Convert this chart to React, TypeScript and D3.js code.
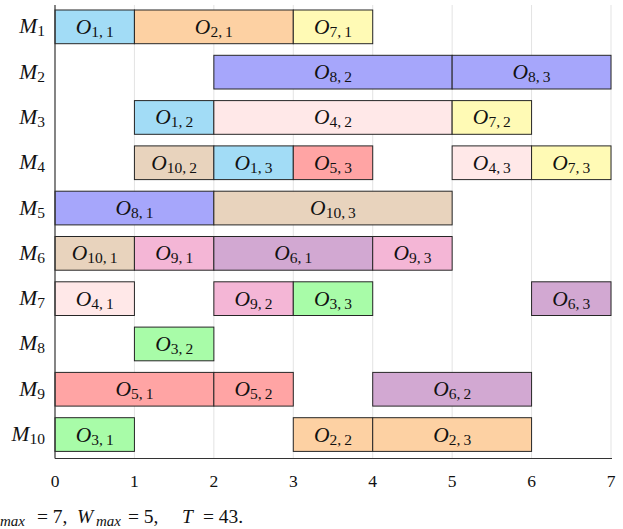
import React from "react";
import * as d3 from "d3";

// Machines (rows) and the time axis ticks
const machines = ["1", "2", "3", "4", "5", "6", "7", "8", "9", "10"];
const timeTicks = [0, 1, 2, 3, 4, 5, 6, 7];

// Each operation: machine index, job, operation number, start, end
const opMachine = [0, 0, 0, 1, 1, 2, 2, 2, 3, 3, 3, 3, 3, 4, 4, 5, 5, 5, 5, 6, 6, 6, 6, 7, 8, 8, 8, 9, 9, 9];
const opJob = [1, 2, 7, 8, 8, 1, 4, 7, 10, 1, 5, 4, 7, 8, 10, 10, 9, 6, 9, 4, 9, 3, 6, 3, 5, 5, 6, 3, 2, 2];
const opIndex = [1, 1, 1, 2, 3, 2, 2, 2, 2, 3, 3, 3, 3, 1, 3, 1, 1, 1, 3, 1, 2, 3, 3, 2, 1, 2, 2, 1, 2, 3];
const opStart = [0, 1, 3, 2, 5, 1, 2, 5, 1, 2, 3, 5, 6, 0, 2, 0, 1, 2, 4, 0, 2, 3, 6, 1, 0, 2, 4, 0, 3, 4];
const opEnd = [1, 3, 4, 5, 7, 2, 5, 6, 2, 3, 4, 6, 7, 2, 5, 1, 2, 4, 5, 1, 3, 4, 7, 2, 2, 3, 6, 1, 4, 6];

// Fill colour per job (1..10)
const jobColors = [
  "#a2dcf6", // 1
  "#fdd1a3", // 2
  "#a8fca8", // 3
  "#ffe8e8", // 4
  "#ffa4a4", // 5
  "#d2a8d2", // 6
  "#fffab5", // 7
  "#a6a6fb", // 8
  "#f4b6d6", // 9
  "#e8d3bd", // 10
];

// Schedule summary values
const cMax = 7;
const wMax = 5;
const tTotal = 43;

const ops = opMachine.map((m, i) => ({
  m,
  job: opJob[i],
  k: opIndex[i],
  start: opStart[i],
  end: opEnd[i],
}));

const W = 623;
const H = 529;
const FONT = "'Liberation Serif', 'DejaVu Serif', serif";

export default function App() {
  const x = d3.scaleLinear().domain([0, 7]).range([55, 611]);
  const y = d3
    .scaleBand<string>()
    .domain(machines)
    .range([4.2, 457.2])
    .paddingInner(0.256)
    .paddingOuter(0.128);
  const axisY = 458.5;
  const bw = y.bandwidth();

  return (
    <svg
      width={W}
      height={H}
      style={{ position: "absolute", left: 0, top: 0, background: "#fff" }}
      fontFamily={FONT}
    >
      {/* vertical grid */}
      {timeTicks.slice(1).map((t) => (
        <line key={t} x1={x(t)} x2={x(t)} y1={5} y2={axisY} stroke="#e3e3e3" strokeWidth={1} />
      ))}

      {/* operation bars */}
      {ops.map((o, i) => {
        const y0 = y(machines[o.m])!;
        const cx = (x(o.start) + x(o.end)) / 2;
        return (
          <g key={i}>
            <rect
              x={x(o.start)}
              y={y0}
              width={x(o.end) - x(o.start)}
              height={bw}
              fill={jobColors[o.job - 1]}
              stroke="#262626"
              strokeWidth={1}
            />
            <text x={cx} y={y0 + bw / 2 + 7} textAnchor="middle" fontSize={21.5} fill="#111">
              <tspan fontStyle="italic">O</tspan>
              <tspan fontSize={15.5} dy={3}>{`${o.job},\u2009${o.k}`}</tspan>
            </text>
          </g>
        );
      })}

      {/* axes */}
      <line x1={55} x2={55} y1={5} y2={axisY} stroke="#333" strokeWidth={1.2} />
      <line x1={55} x2={612} y1={axisY} y2={axisY} stroke="#333" strokeWidth={1.2} />

      {/* machine labels */}
      {machines.map((m) => (
        <text key={m} x={45} y={y(m)! + bw / 2 + 6.5} textAnchor="end" fontSize={21.5} fill="#111">
          <tspan fontStyle="italic">M</tspan>
          <tspan fontSize={15.5} dy={3}>{m}</tspan>
        </text>
      ))}

      {/* time tick labels */}
      {timeTicks.map((t) => (
        <text key={t} x={x(t)} y={487} textAnchor="middle" fontSize={17.5} fill="#111">
          {t}
        </text>
      ))}

      {/* summary line */}
      <g fontSize={19.5} fill="#111">
        <text x={-14} y={523} fontStyle="italic">C</text>
        <text x={0} y={526} fontStyle="italic" fontSize={15}>max</text>
        <text x={37} y={523}>{`= ${cMax},`}</text>
        <text x={77} y={523} fontStyle="italic">W</text>
        <text x={96} y={526} fontStyle="italic" fontSize={15}>max</text>
        <text x={128} y={523}>{`= ${wMax},`}</text>
        <text x={182} y={523} fontStyle="italic">T</text>
        <text x={203} y={523}>{`= ${tTotal}.`}</text>
      </g>
    </svg>
  );
}
